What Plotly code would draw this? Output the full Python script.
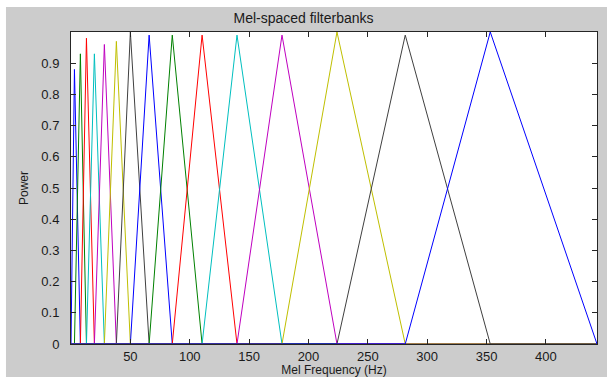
import plotly.graph_objects as go

# Filter centre positions (Mel frequency) and peak heights
centers = [2.9, 7.9, 13.0, 19.7, 28.1, 38.2, 50.0, 65.8, 85.3, 110.4,
           139.8, 177.7, 224.0, 281.5, 353.1]
heights = [0.88, 0.93, 0.98, 0.93, 0.96, 0.97, 1.0, 0.99, 0.99, 0.99,
           0.99, 0.99, 1.0, 0.99, 1.0]
x_start = 0.0
x_end = 443.0
colors = ["#0000ff", "#008000", "#ff0000", "#00bfbf", "#bf00bf", "#bfbf00", "#404040"]
xtick_vals = [50, 100, 150, 200, 250, 300, 350, 400]
ytick_vals = [0, 0.1, 0.2, 0.3, 0.4, 0.5, 0.6, 0.7, 0.8, 0.9]
ytick_text = ["0", "0.1", "0.2", "0.3", "0.4", "0.5", "0.6", "0.7", "0.8", "0.9"]

edges = [x_start] + centers + [x_end]

fig = go.Figure()
for i, (c, h) in enumerate(zip(centers, heights)):
    left = edges[i]
    right = edges[i + 2]
    xs = [x_start, left, c, right, x_end]
    ys = [0, 0, h, 0, 0]
    fig.add_trace(go.Scatter(x=xs, y=ys, mode="lines",
                             line=dict(color=colors[i % len(colors)], width=1),
                             showlegend=False, hoverinfo="skip"))

font = "Liberation Sans, Arial, sans-serif"
axis_col = "#262626"
fig.update_layout(
    width=607, height=377,
    margin=dict(l=71, r=10, t=32, b=33, autoexpand=False),
    paper_bgcolor="#cccccc",
    plot_bgcolor="#ffffff",
    font=dict(family=font, size=13, color="#1a1a1a"),
    title=dict(text="Mel-spaced filterbanks", x=0.5, xanchor="center",
               y=1 - 18 / 377, yanchor="middle",
               font=dict(family=font, size=14, color="#1a1a1a")),
    shapes=[
        dict(type="rect", xref="paper", yref="paper", x0=-0.2, x1=1.2,
             y0=1.0801, y1=1.3, fillcolor="#ffffff", line=dict(width=0), layer="below"),
        dict(type="rect", xref="paper", yref="paper", x0=-0.3, x1=-0.1236,
             y0=-0.3, y1=1.3, fillcolor="#ffffff", line=dict(width=0), layer="below"),
    ],
)
fig.update_xaxes(range=[x_start, x_end], tickvals=xtick_vals, automargin=False,
                 ticks="inside", ticklen=5, tickcolor=axis_col, tickwidth=1,
                 showline=True, linecolor=axis_col, linewidth=1, mirror="ticks",
                 showgrid=False, zeroline=False,
                 tickfont=dict(family=font, size=13),
                 title=dict(text="Mel Frequency (Hz)", standoff=5,
                            font=dict(family=font, size=12)))
fig.update_yaxes(range=[0, 1.0], tickvals=ytick_vals, ticktext=ytick_text, automargin=False,
                 ticks="inside", ticklen=5, tickcolor=axis_col, tickwidth=1,
                 showline=True, linecolor=axis_col, linewidth=1, mirror="ticks",
                 showgrid=False, zeroline=False, ticklabelstandoff=8,
                 tickfont=dict(family=font, size=13),
                 title=dict(text="Power", standoff=10,
                            font=dict(family=font, size=12)))

fig.write_html("out.html", config={"displayModeBar": False},
               post_script="document.body.style.margin='0';document.body.style.overflow='hidden';")
